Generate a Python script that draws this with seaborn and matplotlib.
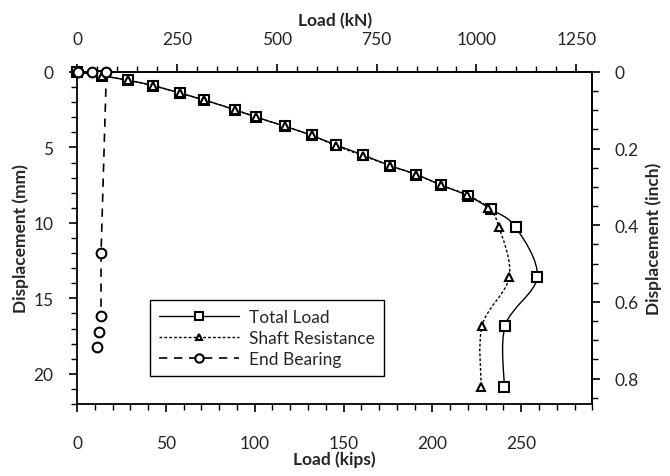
import numpy as np
import pandas as pd
import matplotlib
matplotlib.use('Agg')
import matplotlib.pyplot as plt
import seaborn as sns
from matplotlib.path import Path
from matplotlib.patches import PathPatch
from matplotlib.lines import Line2D
from matplotlib.ticker import MultipleLocator, FixedLocator

# load in kips, displacement in mm
total_kips = [0, 13.8, 28.7, 42.8, 57.9, 71.3, 88.8, 101, 117, 132, 146,
              161, 176, 191, 205, 220, 233, 247, 259, 241, 240.5]
total_mm = [0, 0.25, 0.55, 0.9, 1.4, 1.85, 2.5, 3.0, 3.6, 4.2, 4.85,
            5.5, 6.2, 6.8, 7.5, 8.2, 9.1, 10.3, 13.6, 16.8, 20.9]
shaft_kips = [0, 13.8, 28.7, 42.8, 57.9, 71.3, 88.8, 101, 117, 132, 146,
              161, 176, 191, 205, 219.6, 231.5, 237.6, 243.3, 228, 227.5]
shaft_mm = [0, 0.25, 0.55, 0.9, 1.4, 1.85, 2.5, 3.0, 3.6, 4.2, 4.9,
            5.55, 6.2, 6.8, 7.5, 8.15, 9.0, 10.3, 13.6, 16.8, 20.9]
end_kips = [0.5, 8.5, 16.5, 13.5, 13.5, 12.4, 11.2]
end_mm = [0, 0, 0, 12.0, 16.2, 17.2, 18.2]

kn_ticks = [0, 250, 500, 750, 1000, 1250]
inch_ticks = [0, 0.2, 0.4, 0.6, 0.8]

sns.set_style('ticks')
plt.rcParams['font.family'] = ['Lato', 'DejaVu Sans']
plt.rcParams['font.size'] = 12.5


def smooth_path(x, y):
    # excel-like smoothed line through the points
    p = np.column_stack([x, y]).astype(float)
    n = len(p)
    verts = [p[0]]
    codes = [Path.MOVETO]
    for i in range(n - 1):
        p0 = p[i - 1] if i > 0 else p[i]
        p3 = p[i + 2] if i + 2 < n else p[i + 1]
        verts += [p[i] + (p[i + 1] - p0) / 6, p[i + 1] - (p3 - p[i]) / 6, p[i + 1]]
        codes += [Path.CURVE4] * 3
    return Path(verts, codes)


fig = plt.figure(figsize=(6.7, 4.77), dpi=100)
ax = fig.add_axes([0.115, 0.151, 0.769, 0.696])

tot = pd.DataFrame({'kips': total_kips, 'mm': total_mm})
sha = pd.DataFrame({'kips': shaft_kips, 'mm': shaft_mm})
end = pd.DataFrame({'kips': end_kips, 'mm': end_mm})

ax.add_patch(PathPatch(smooth_path(tot['kips'], tot['mm']), fill=False,
                       lw=1.0, ec='black', zorder=2))
ax.add_patch(PathPatch(smooth_path(sha['kips'], sha['mm']), fill=False,
                       lw=1.0, ec='black', ls=(0, (2, 1.5)), zorder=2))
sns.lineplot(data=end, x='kips', y='mm', sort=False, estimator=None, ax=ax,
             color='black', lw=1.2, ls=(0, (5, 4)), zorder=2)

mk = dict(mfc='white', mec='black', mew=1.5, ls='none', color='black',
          zorder=3, clip_on=False)
ax.plot(tot['kips'], tot['mm'], marker='s', ms=7, **mk)
ax.plot(sha['kips'], sha['mm'], marker='^', ms=6, **mk)
ax.plot(end['kips'], end['mm'], marker='o', ms=7, **mk)

ax.set_xlim(0, 290)
ax.set_ylim(22, 0)
ax.xaxis.set_major_locator(MultipleLocator(50))
ax.xaxis.set_minor_locator(MultipleLocator(10))
ax.yaxis.set_major_locator(MultipleLocator(5))
ax.yaxis.set_minor_locator(MultipleLocator(1))
ax.set_xlabel('Load (kips)', fontweight='bold', labelpad=0)
ax.set_ylabel('Displacement (mm)', fontweight='bold', labelpad=3)

top = ax.secondary_xaxis('top', functions=(lambda k: k * 4.448222, lambda n: n / 4.448222))
top.xaxis.set_major_locator(FixedLocator(kn_ticks))
top.xaxis.set_minor_locator(FixedLocator(list(range(0, 1290, 50))))
top.set_xlabel('Load (kN)', fontweight='bold', labelpad=4)

right = ax.secondary_yaxis('right', functions=(lambda m: m / 25.4, lambda i: i * 25.4))
right.yaxis.set_major_locator(FixedLocator(inch_ticks))
right.yaxis.set_minor_locator(FixedLocator([i * 0.05 for i in range(18)]))
right.set_yticklabels(['0', '0.2', '0.4', '0.6', '0.8'])
right.set_ylabel('Displacement (inch)', fontweight='bold', labelpad=5)

for a in (ax, top, right):
    a.tick_params(which='major', direction='out', length=6, width=1.2, color='black')
    a.tick_params(which='minor', direction='out', length=4, width=1.0, color='black')
ax.tick_params(axis='x', pad=16)
top.tick_params(axis='x', pad=12)
ax.tick_params(axis='y', pad=11)
right.tick_params(axis='y', pad=10)
for s in ax.spines.values():
    s.set_linewidth(1.3)
    s.set_color('black')
top.spines['top'].set_linewidth(1.3)
right.spines['right'].set_linewidth(1.3)

handles = [
    Line2D([], [], color='black', lw=1.0, marker='s', ms=6, mfc='white', mec='black', mew=1.5),
    Line2D([], [], color='black', lw=1.0, ls=(0, (2, 1.5)), marker='^', ms=5, mfc='white', mec='black', mew=1.5),
    Line2D([], [], color='black', lw=1.2, ls=(0, (5, 4)), marker='o', ms=6, mfc='white', mec='black', mew=1.5),
]
leg = ax.legend(handles, ['Total Load', 'Shaft Resistance', 'End Bearing'],
                loc='lower left', bbox_to_anchor=(0.142, 0.084), borderaxespad=0,
                fancybox=False, framealpha=1, edgecolor='black', handlelength=4.6,
                labelspacing=0.3, borderpad=0.5, handletextpad=0.6, fontsize=12.5)
leg.get_frame().set_linewidth(1.0)

fig.savefig('out.png', dpi=100)
